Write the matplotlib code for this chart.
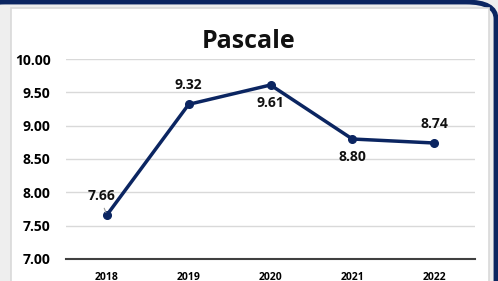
import matplotlib
matplotlib.use("Agg")
import matplotlib.pyplot as plt
from matplotlib.patches import Rectangle, FancyBboxPatch

plt.rcParams['font.family'] = ['Open Sans', 'DejaVu Sans']

years = ['2018', '2019', '2020', '2021', '2022']
values = [7.66, 9.32, 9.61, 8.80, 8.74]
# przesunięcia etykiet (w punktach)
offsets = [(-4, 14), (0, 14), (0, -13), (0, -13), (0, 14)]

navy = '#0b2561'

fig = plt.figure(figsize=(4.98, 2.81), dpi=100)
fig.patch.set_facecolor('#eeeeee')

# ramka u góry
fig.patches.append(FancyBboxPatch((-0.05, -0.2), 0.05 + 496 / 498, 0.2 + 1 - 2 / 281,
                                  boxstyle="round,pad=0,rounding_size=0.06",
                                  transform=fig.transFigure, facecolor='none', edgecolor=navy,
                                  linewidth=3.5, zorder=0))
# biały panel
fig.patches.append(Rectangle((11 / 498, -0.1), 478 / 498, 0.1 + 1 - 8 / 281, transform=fig.transFigure,
                             facecolor='white', edgecolor='#d9d9d9', linewidth=1.2, zorder=0.5))

ax = fig.add_axes([66 / 498, 1 - 259 / 281, 409 / 498, 200 / 281])
ax.set_zorder(2)
ax.set_facecolor('none')
x = list(range(len(years)))
ax.plot(x, values, color=navy, linewidth=2.5, marker='o', markersize=5.5, zorder=3)

for i, v in enumerate(values):
    ax.annotate(f"{v:.2f}", (i, v), xytext=offsets[i], textcoords='offset points',
                ha='center', va='center', fontsize=10, fontweight='bold', color='#111111')
ax.annotate('', (0, values[0]), xytext=(-0.045, values[0] + 0.14),
            arrowprops=dict(arrowstyle='-', color='#999999', lw=0.8))

ax.set_xlim(-0.5, len(years) - 0.5)
ax.set_ylim(7, 10)
ax.set_yticks([7.0, 7.5, 8.0, 8.5, 9.0, 9.5, 10.0])
ax.set_yticklabels([f"{t:.2f}" for t in ax.get_yticks()], fontsize=10, fontweight='bold')
ax.set_xticks(x)
ax.set_xticklabels(years, fontsize=7.5, fontweight='bold')
ax.tick_params(length=0, pad=9)
ax.tick_params(axis='y', pad=11)
ax.grid(axis='y', color='#d9d9d9', linewidth=1)
for s in ['top', 'right', 'left']:
    ax.spines[s].set_visible(False)
ax.spines['bottom'].set_color('#404040')
ax.spines['bottom'].set_linewidth(1.5)
ax.set_axisbelow(True)

fig.text(0.5, 1 - 41 / 281, 'Pascale', ha='center', va='center', fontsize=18, fontweight='bold',
         color='#111111', zorder=3)

fig.savefig('out.png', dpi=100, facecolor=fig.get_facecolor())
